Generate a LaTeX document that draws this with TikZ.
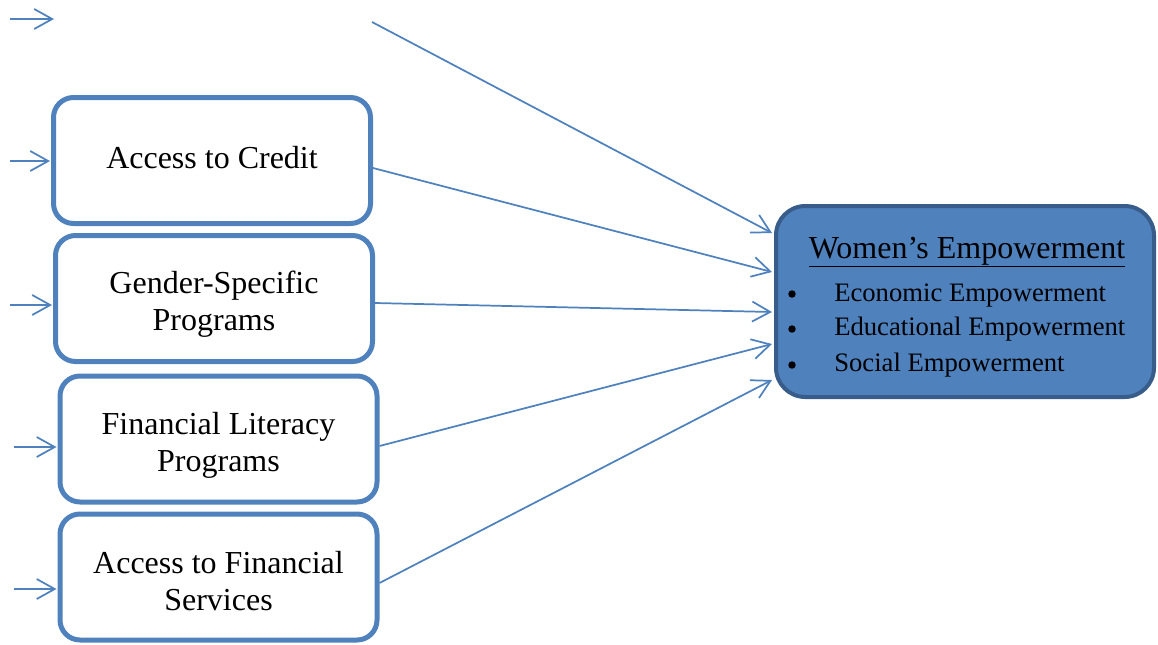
\documentclass[tikz,border=0pt]{standalone}
\usepackage{fontspec}
\setmainfont{Liberation Serif}
\usetikzlibrary{arrows.meta,calc}
\definecolor{boxblue}{RGB}{79,129,189}
\definecolor{darkblue}{RGB}{56,93,138}
\begin{document}
\begin{tikzpicture}[x=0.75pt,y=-0.75pt,
  inbox/.style={draw=boxblue, line width=3.75pt, rounded corners=15pt,
    minimum width=237.75pt, minimum height=94.5pt, inner sep=0pt},
  boxtext/.style={align=center, inner sep=0pt, font=\fontsize{24}{27.75}\selectfont},
  goalbox/.style={draw=darkblue, fill=boxblue, line width=3pt, rounded corners=22pt,
    minimum width=283.5pt, minimum height=143.25pt, inner sep=0pt},
  link/.style={draw=boxblue, line width=1.3pt,
    -{Straight Barb[length=13.5pt,width=15pt,line width=1.3pt]}},
  itemtext/.style={anchor=base west, inner sep=0pt, font=\fontsize{20}{24}\selectfont},
  dot/.style={circle, fill=black, inner sep=0pt, minimum size=5.6pt}]
\useasboundingbox (0,0) rectangle (1158,644);

% input factors
\node[inbox, label={[boxtext, yshift=2.5pt]center:Access to Credit}] (credit) at (212,160.5) {};
\node[inbox, label={[boxtext, yshift=-4.5pt]center:Gender-Specific\\Programs}] (gender) at (214,298.5) {};
\node[inbox, label={[boxtext, yshift=-4.5pt]center:Financial Literacy\\Programs}] (literacy) at (218.5,439) {};
\node[inbox, label={[boxtext, yshift=-3pt]center:Access to Financial\\Services}] (services) at (218.5,577) {};

% outcome box
\node[goalbox] (wom) at (965,301.5) {};
\node[anchor=base, inner sep=0pt, font=\fontsize{24}{28}\selectfont] (title) at (967,258)
  {\underline{Women’s Empowerment}};
\node[dot] (d1) at (792,294) {};
\node[dot] (d2) at (792,329) {};
\node[dot] (d3) at (792,365) {};
\node[itemtext] (i1) at (834,301) {Economic Empowerment};
\node[itemtext] (i2) at (834,335) {Educational Empowerment};
\node[itemtext] (i3) at (834,371) {Social Empowerment};

% free ends of the incoming arrows
\coordinate (t0) at (10,19);
\coordinate (t1) at (54,19);
\coordinate (s1) at (10,161);
\coordinate (s2) at (10,305);
\coordinate (s3) at (14,447);
\coordinate (s4) at (14,589);
\coordinate (top) at (372,22);

\draw[link] (t0) -- (t1);
\draw[link] (s1) -- ($(credit.west)+(-1,0.5)$);
\draw[link] (s2) -- ($(gender.west)+(-1,6.5)$);
\draw[link] (s3) -- ($(literacy.west)+(-1,8)$);
\draw[link] (s4) -- ($(services.west)+(-1,12)$);

% links into the outcome box
\draw[link] (top) -- ($(wom.west)+(-2,-68.5)$);
\draw[link] ($(credit.east)+(0,7.5)$) -- ($(wom.west)+(-2,-29.5)$);
\draw[link] ($(gender.east)+(0,4.5)$) -- ($(wom.west)+(-2,10.5)$);
\draw[link] ($(literacy.east)+(0,7)$) -- ($(wom.west)+(-2,42.5)$);
\draw[link] ($(services.east)+(0,6)$) -- ($(wom.west)+(-2,78.5)$);
\end{tikzpicture}
\end{document}
